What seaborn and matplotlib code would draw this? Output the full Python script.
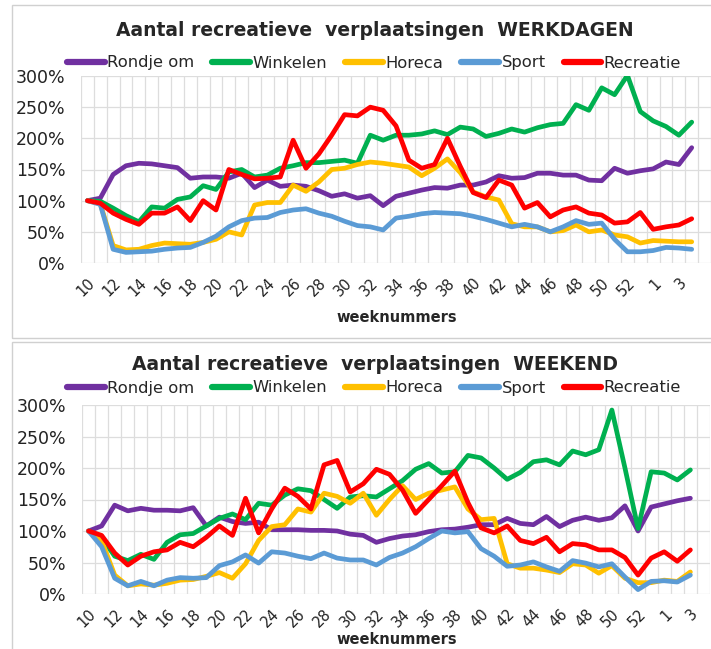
import numpy as np
import pandas as pd
import matplotlib.pyplot as plt
import seaborn as sns
from matplotlib.patches import Rectangle

sns.set_style("white")
plt.rcParams['font.family'] = ['DejaVu Sans']

# weeknummers: week 10 t/m 53 van 2020, daarna 1 t/m 4 van 2021
weeks = list(range(10, 54)) + [1, 2, 3, 4]
series = ['Rondje om', 'Winkelen', 'Horeca', 'Sport', 'Recreatie']
kleuren = ['#7030A0', '#00B050', '#FFC000', '#5B9BD5', '#FF0000']

# WERKDAGEN (t/m week 4)
wd_rondje = [100, 104, 142, 156, 160, 159, 156, 153, 136, 138,
             138, 136, 144, 121, 133, 123, 125, 123, 116, 107,
             111, 104, 108, 92, 107, 112, 117, 121, 120, 125,
             125, 130, 140, 136, 137, 144, 144, 141, 141, 133,
             132, 152, 144, 148, 151, 162, 158, 185]
wd_winkelen = [100, 99, 88, 76, 66, 90, 88, 102, 106, 124,
               118, 146, 150, 138, 141, 152, 156, 161, 161, 163,
               165, 160, 205, 197, 205, 205, 207, 212, 206, 218,
               215, 203, 208, 215, 210, 217, 222, 224, 254, 245,
               281, 270, 301, 243, 228, 219, 205, 226]
wd_horeca = [100, 95, 28, 21, 22, 28, 32, 31, 30, 33,
             38, 50, 45, 93, 97, 97, 125, 115, 130, 150,
             152, 158, 162, 160, 157, 154, 140, 152, 167, 145,
             114, 106, 101, 63, 58, 58, 50, 52, 61, 50,
             53, 45, 42, 32, 36, 35, 34, 34]
wd_sport = [100, 94, 22, 17, 18, 19, 22, 24, 25, 33,
            43, 58, 68, 72, 73, 81, 85, 87, 80, 75,
            67, 60, 58, 53, 72, 75, 79, 81, 80, 79,
            75, 70, 64, 58, 62, 58, 50, 58, 68, 62,
            64, 38, 18, 18, 20, 25, 24, 22]
wd_recreatie = [100, 96, 80, 70, 62, 80, 80, 90, 68, 100,
                85, 150, 142, 135, 136, 138, 197, 152, 175, 205,
                238, 236, 250, 245, 220, 165, 152, 158, 200, 155,
                113, 105, 133, 125, 88, 97, 74, 85, 90, 80,
                77, 64, 66, 81, 54, 58, 61, 71]

# WEEKEND (t/m week 3)
we_rondje = [100, 108, 141, 132, 136, 133, 133, 132, 137, 108,
             122, 115, 112, 114, 102, 102, 102, 101, 101, 100,
             95, 93, 82, 88, 92, 94, 99, 102, 103, 106,
             110, 110, 120, 112, 110, 123, 107, 117, 122, 117,
             121, 140, 100, 138, 143, 148, 152]
we_winkelen = [100, 90, 60, 53, 63, 55, 82, 94, 96, 108,
               120, 127, 118, 144, 141, 157, 167, 164, 150, 136,
               154, 156, 154, 167, 180, 198, 207, 192, 194, 220,
               216, 200, 182, 193, 210, 213, 205, 227, 221, 229,
               292, 200, 104, 194, 192, 181, 197]
we_horeca = [100, 85, 30, 13, 16, 14, 17, 22, 23, 28,
             34, 25, 48, 85, 107, 110, 135, 130, 160, 155,
             144, 160, 125, 150, 172, 150, 160, 165, 170, 135,
             118, 120, 48, 41, 41, 38, 34, 48, 46, 33,
             45, 25, 18, 18, 22, 20, 35]
we_sport = [100, 75, 25, 13, 20, 13, 22, 26, 25, 26,
            45, 51, 62, 49, 67, 65, 60, 56, 65, 57,
            54, 54, 46, 58, 65, 75, 88, 100, 97, 99,
            72, 60, 44, 46, 51, 43, 36, 53, 49, 43,
            48, 27, 7, 20, 21, 19, 30]
we_recreatie = [100, 93, 65, 46, 60, 67, 70, 82, 75, 90,
                108, 93, 152, 97, 135, 168, 155, 135, 205, 212,
                162, 175, 198, 190, 165, 128, 150, 172, 195, 145,
                105, 97, 108, 85, 80, 90, 67, 80, 78, 70,
                70, 58, 30, 57, 67, 52, 70]


def to_long(values):
    frames = []
    for name, vals in zip(series, values):
        frames.append(pd.DataFrame({'i': np.arange(len(vals)), 'pct': vals, 'soort': name}))
    return pd.concat(frames, ignore_index=True)


W, H = 711, 649
fig = plt.figure(figsize=(W / 100, H / 100), dpi=100)

# panel frames
for y0, y1 in [(5, 338), (342, 655)]:
    fig.patches.append(Rectangle((12 / W, 1 - y1 / H), 1.0, (y1 - y0) / H,
                                 transform=fig.transFigure, fill=False,
                                 edgecolor='#D0D0D0', lw=1.0))


def draw(rect, values, n, xmax, title, title_y, legend_y, xlabel_y):
    ax = fig.add_axes(rect)
    df = to_long(values)
    sns.lineplot(data=df, x='i', y='pct', hue='soort', hue_order=series,
                 palette=kleuren, linewidth=3.4, ax=ax, estimator=None, sort=False)
    for ln in ax.lines:
        ln.set_solid_capstyle('round')
        ln.set_solid_joinstyle('round')
    ax.set_ylim(0, 300)
    ax.set_xlim(-0.5, xmax)
    ax.set_yticks(range(0, 301, 50))
    ax.set_yticklabels([f'{v}%' for v in range(0, 301, 50)], fontsize=12.5, color='#222222')
    ticks = list(range(0, n, 2))
    ax.set_xticks(ticks)
    ax.set_xticklabels([str(weeks[k]) for k in ticks], rotation=45, ha='right',
                       rotation_mode='anchor', fontsize=10.5, color='#222222')
    ax.set_xticks(np.arange(-0.5, n + 0.6, 1), minor=True)
    ax.tick_params(axis='both', which='both', length=0)
    ax.tick_params(axis='x', pad=9)
    ax.tick_params(axis='y', pad=11)
    ax.grid(False)
    ax.grid(which='minor', axis='x', color='#DDDDDD', lw=0.9)
    ax.grid(which='major', axis='y', color='#DDDDDD', lw=0.9)
    for s in ax.spines.values():
        s.set_visible(False)
    ax.set_xlabel('')
    ax.set_ylabel('')
    handles, labels = ax.get_legend_handles_labels()
    ax.get_legend().remove()
    leg = fig.legend(handles, labels, ncol=5, loc='center',
                     bbox_to_anchor=(374 / W, 1 - legend_y / H), frameon=False,
                     fontsize=11.8, handlelength=2.3, handletextpad=0.15,
                     columnspacing=1.1)
    for h in leg.legend_handles:
        h.set_linewidth(4.5)
    fig.text(375 / W, 1 - title_y / H, title, ha='center', va='center',
             fontsize=13.5, fontweight='bold')
    fig.text(397 / W, 1 - xlabel_y / H, 'weeknummers', ha='center', va='center',
             fontsize=10.5, fontweight='bold')
    return ax


left = 81 / W
# werkdagen: 48 weken, panel loopt door tot buiten de rand
draw([left, 1 - 263 / H, 1 - left, (263 - 76) / H],
     [wd_rondje, wd_winkelen, wd_horeca, wd_sport, wd_recreatie],
     48, -0.5 + (W - 81) / 13.25,
     'Aantal recreatieve  verplaatsingen  WERKDAGEN', 30, 63, 318)

# weekend: 47 weken
draw([82 / W, 1 - 594 / H, (710 - 82) / W, (594 - 405) / H],
     [we_rondje, we_winkelen, we_horeca, we_sport, we_recreatie],
     47, 46.5,
     'Aantal recreatieve  verplaatsingen  WEEKEND', 365, 388, 640)

fig.savefig('out.png', dpi=100)
